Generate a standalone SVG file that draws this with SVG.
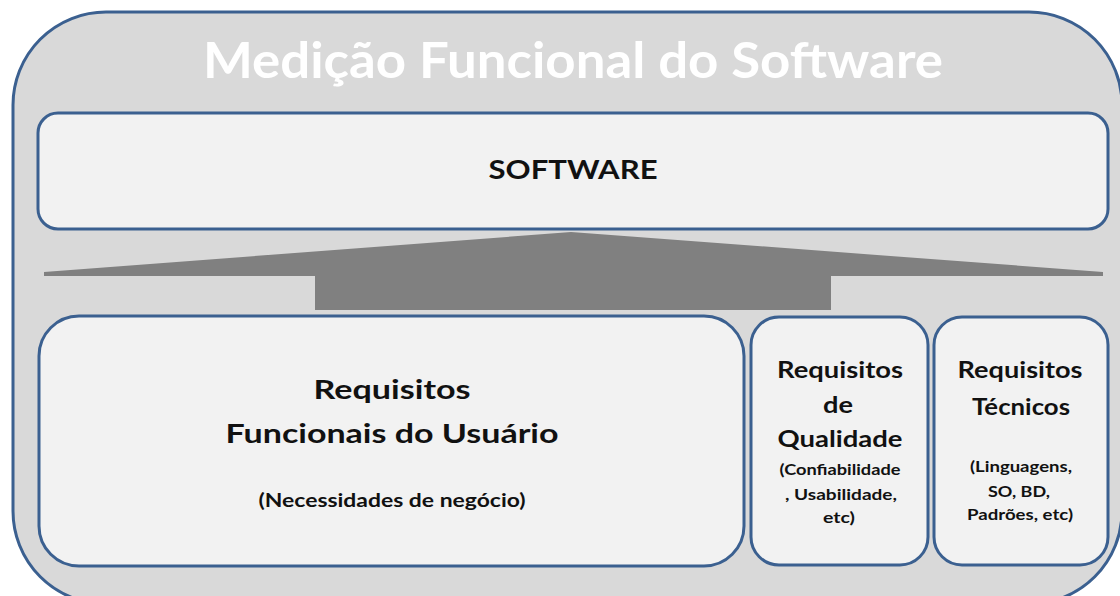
<svg xmlns="http://www.w3.org/2000/svg" width="1120" height="596" viewBox="0 0 1120 596">
  <style>
    .box { fill: #F2F2F2; stroke: #3B6090; stroke-width: 3; }
    .t { font-family: Lato, "Open Sans", "Liberation Sans", sans-serif; font-weight: bold; fill: #111111; text-anchor: middle; }
  </style>
  <rect width="1120" height="596" fill="#FFFFFF"/>
  <g id="outer">
    <rect x="13" y="12" width="1109" height="592" rx="93" ry="93" fill="#D9D9D9" stroke="#3B6090" stroke-width="3"/>
    <text class="t" x="573" y="78" font-size="49" style="fill:#FFFFFF" textLength="740" lengthAdjust="spacingAndGlyphs">Medição Funcional do Software</text>
  </g>
  <g id="software">
    <rect class="box" x="38" y="113" width="1070" height="116" rx="20" ry="20"/>
    <text class="t" x="573" y="179" font-size="27.5" textLength="169" lengthAdjust="spacingAndGlyphs">SOFTWARE</text>
  </g>
  <g id="connectors">
    <polygon points="44,272 571,232 1103,272 1103,276 831,276 831,310 315,310 315,276 44,276" fill="#808080"/>
  </g>
  <g id="req-funcionais">
    <rect class="box" x="39" y="316" width="705" height="250" rx="40" ry="40"/>
    <text class="t" x="392" y="399" font-size="26" textLength="157" lengthAdjust="spacingAndGlyphs">Requisitos</text>
    <text class="t" x="392" y="443" font-size="26" textLength="333" lengthAdjust="spacingAndGlyphs">Funcionais do Usuário</text>
    <text class="t" x="392" y="507" font-size="18" textLength="267" lengthAdjust="spacingAndGlyphs">(Necessidades de negócio)</text>
  </g>
  <g id="req-qualidade">
    <rect class="box" x="751" y="317" width="177" height="248" rx="28" ry="28"/>
    <text class="t" x="840" y="378" font-size="22.5" textLength="126" lengthAdjust="spacingAndGlyphs">Requisitos</text>
    <text class="t" x="838" y="413" font-size="22.5" textLength="30" lengthAdjust="spacingAndGlyphs">de</text>
    <text class="t" x="840" y="447" font-size="22.5" textLength="125" lengthAdjust="spacingAndGlyphs">Qualidade</text>
    <text class="t" x="840" y="475" font-size="15.5" textLength="121" lengthAdjust="spacingAndGlyphs">(Confiabilidade</text>
    <text class="t" x="841" y="500" font-size="15.5" textLength="112" lengthAdjust="spacingAndGlyphs">, Usabilidade,</text>
    <text class="t" x="839" y="523" font-size="15.5" textLength="32" lengthAdjust="spacingAndGlyphs">etc)</text>
  </g>
  <g id="req-tecnicos">
    <rect class="box" x="934" y="317" width="174" height="248" rx="28" ry="28"/>
    <text class="t" x="1020" y="378" font-size="22.5" textLength="125" lengthAdjust="spacingAndGlyphs">Requisitos</text>
    <text class="t" x="1021" y="415" font-size="22.5" textLength="98" lengthAdjust="spacingAndGlyphs">Técnicos</text>
    <text class="t" x="1021" y="472" font-size="15.5" textLength="102" lengthAdjust="spacingAndGlyphs">(Linguagens,</text>
    <text class="t" x="1019" y="497" font-size="15.5" textLength="62" lengthAdjust="spacingAndGlyphs">SO, BD,</text>
    <text class="t" x="1020" y="520" font-size="15.5" textLength="106" lengthAdjust="spacingAndGlyphs">Padrões, etc)</text>
  </g>
</svg>
